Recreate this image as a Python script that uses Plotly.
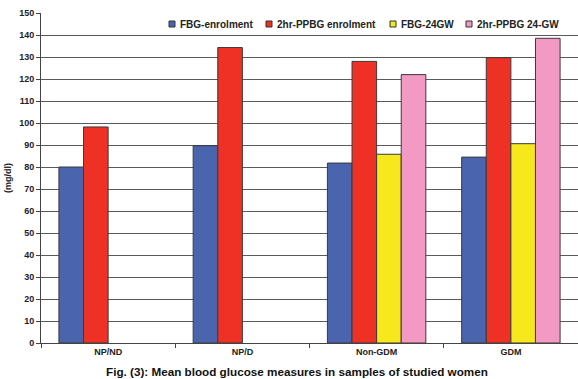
import plotly.graph_objects as go

# Groups of women and mean glucose values (mg/dl)
categories = ["NP/ND", "NP/D", "Non-GDM", "GDM"]
fbg_enrolment = [80.0, 89.7, 81.8, 84.5]
ppbg_enrolment = [98.2, 134.3, 128.0, 129.7]
fbg_24gw = [None, None, 85.8, 90.6]
ppbg_24gw = [None, None, 122.0, 138.5]

series_names = ["FBG-enrolment", "2hr-PPBG enrolment", "FBG-24GW", "2hr-PPBG 24-GW"]
series_values = [fbg_enrolment, ppbg_enrolment, fbg_24gw, ppbg_24gw]
series_colors = ["#4a64ae", "#ee3124", "#f6e81c", "#f29ac4"]

y_ticks = list(range(0, 151, 10))
caption = "Fig. (3): Mean blood glucose measures in samples of studied women"

W, H = 578, 379
M_L, M_R, M_T, M_B = 41, 0, 13, 36
plot_w = W - M_L - M_R
plot_h = H - M_T - M_B

FONT = "Liberation Sans, Arial, sans-serif"

fig = go.Figure()
for name, vals, col in zip(series_names, series_values, series_colors):
    fig.add_trace(go.Bar(
        x=categories, y=vals, name=name,
        marker=dict(color=col, line=dict(color="#3a3a3a", width=1)),
        showlegend=False,
    ))

# Key row across the top band of the plot
key_text_x = [178, 275, 399, 475]   # px from left of page
key_y = 24                           # px from top of page
for name, col, tx in zip(series_names, series_colors, key_text_x):
    sx = (tx - 9 - M_L) / plot_w
    sx2 = (tx - 3 - M_L) / plot_w
    cy = 1 - (key_y - M_T) / plot_h
    half = 3 / plot_h
    fig.add_shape(type="rect", xref="paper", yref="paper",
                  x0=sx, x1=sx2, y0=cy - half, y1=cy + half,
                  fillcolor=col, line=dict(color="#333333", width=1))
    fig.add_annotation(text=f"<b>{name}</b>", xref="paper", yref="paper",
                       x=(tx - M_L) / plot_w, y=cy, xanchor="left", yanchor="middle",
                       showarrow=False, font=dict(family=FONT, size=10, color="#222222"))

fig.add_annotation(text=f"<b>{caption}</b>", xref="paper", yref="paper",
                   x=(297 - M_L) / plot_w, y=-(371 - (H - M_B)) / plot_h,
                   xanchor="center", yanchor="middle", showarrow=False,
                   font=dict(family=FONT, size=11.7, color="#111111"))

fig.update_layout(
    width=W, height=H,
    margin=dict(l=M_L, r=M_R, t=M_T, b=M_B),
    paper_bgcolor="white", plot_bgcolor="white",
    barmode="group", bargap=0.267, bargroupgap=0,
    font=dict(family=FONT, size=9, color="#222222"),
    xaxis=dict(
        showline=True, linecolor="#444444", linewidth=1,
        ticks="outside", tickson="boundaries", ticklen=4, tickcolor="#444444",
        tickfont=dict(family=FONT, size=9, color="#222222", weight="bold"),
        showgrid=False,
    ),
    yaxis=dict(
        range=[0, 150], tickvals=y_ticks,
        showline=True, linecolor="#444444", linewidth=1,
        ticks="outside", ticklen=4, tickcolor="#444444",
        tickfont=dict(family=FONT, size=9, color="#222222", weight="bold"),
        showgrid=True, gridcolor="#5a5a5a", gridwidth=1,
        zeroline=False,
        title=dict(text="<b>(mg/dl)</b>", font=dict(family=FONT, size=9, color="#222222"),
                   standoff=6),
    ),
)

fig.write_html("out.html")
